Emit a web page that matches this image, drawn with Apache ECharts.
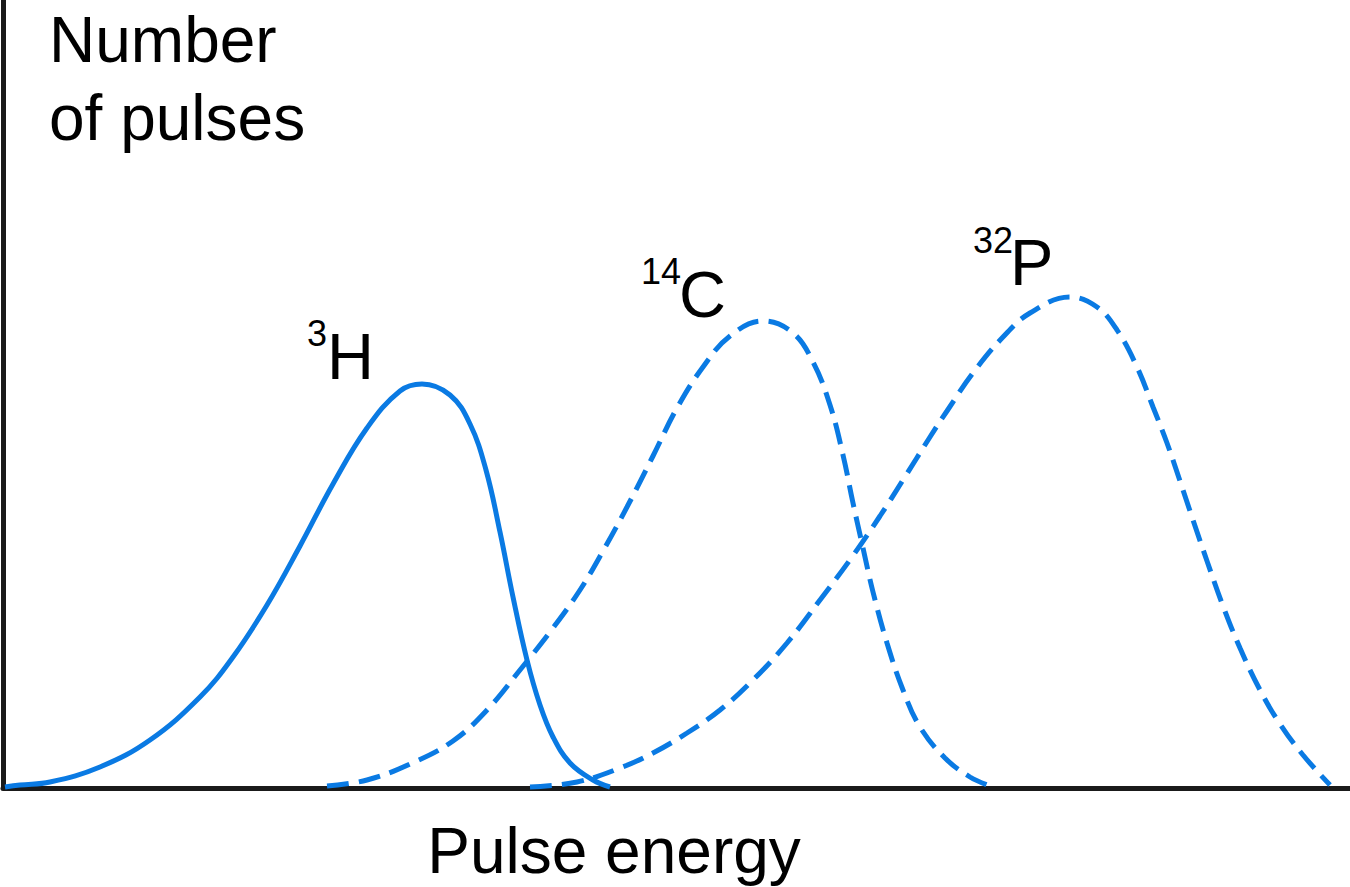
<!DOCTYPE html>
<html>
<head>
<meta charset="utf-8">
<script src="https://cdn.jsdelivr.net/npm/echarts@6/dist/echarts.min.js"></script>
<style>
html,body{margin:0;padding:0;background:#fff;}
#chart{width:1350px;height:887px;}
</style>
</head>
<body>
<div id="chart"></div>
<script>
// Pulse energy (arbitrary units) vs number of pulses (arbitrary units)
var h3Energy  = [2,17,47,97,147,197,230,264,297,330,364,397,419,447,467,483,497,510,524,537,550,567,590,607];
var h3Counts  = [1,3,6,21,48,91,131,183,242,304,360,397,404,393,364,318,256,191,128,83,51,25,8,1];

var c14Energy = [324,364,407,450,484,517,550,577,600,624,650,674,700,727,760,790,810,827,840,850,860,870,884,900,917,942,967,987];
var c14Counts = [2,8,24,47,78,118,160,198,237,281,332,380,421,452,467,455,426,383,333,285,240,196,145,98,61,30,11,2];

var p32Energy = [527,574,617,650,684,717,750,784,817,849,877,900,927,944,970,1000,1027,1067,1094,1114,1134,1150,1164,1177,1190,1204,1220,1237,1257,1277,1300,1327];
var p32Counts = [1,6,20,35,55,78,108,145,188,231,272,308,351,377,415,451,475,491,481,458,421,381,345,307,268,227,182,140,98,64,33,3];

var xName = 'Pulse energy';
var yNameLines = ['Number', 'of pulses'];
var seriesNames = ['3H', '14C', '32P'];

function pairs(xs, ys){ return xs.map(function(x,i){ return [x, ys[i]]; }); }

var blue = '#0a7ae3';
var chart = echarts.init(document.getElementById('chart'), null, {renderer:'svg'});
var font = '"Liberation Sans", Arial, Helvetica, sans-serif';

function txt(text, x, y, size, align){
  return {type:'text', x:x, y:y, silent:true,
    style:{text:text, fontSize:size, fontFamily:font, fill:'#000', align:align||'left', verticalAlign:'middle'}};
}

var option = {
  animation:false,
  backgroundColor:'#fff',
  grid:{left:3, right:0, top:0, bottom:99, containLabel:false},
  xAxis:{type:'value', min:0, max:1347,
    axisLine:{show:true, onZero:false, lineStyle:{color:'#1a1a1a', width:5}},
    axisTick:{show:false}, axisLabel:{show:false}, splitLine:{show:false}},
  yAxis:{type:'value', min:0, max:788,
    axisLine:{show:true, onZero:false, lineStyle:{color:'#1a1a1a', width:5}},
    axisTick:{show:false}, axisLabel:{show:false}, splitLine:{show:false}},
  series:[
    {name:seriesNames[0], type:'line', data:pairs(h3Energy,h3Counts), smooth:0.4, showSymbol:false,
      lineStyle:{color:blue, width:5, type:'solid'}},
    {name:seriesNames[1], type:'line', data:pairs(c14Energy,c14Counts), smooth:0.4, showSymbol:false,
      lineStyle:{color:blue, width:5, type:[22,10]}},
    {name:seriesNames[2], type:'line', data:pairs(p32Energy,p32Counts), smooth:0.4, showSymbol:false,
      lineStyle:{color:blue, width:5, type:[22,10]}}
  ],
  graphic:[
    txt(yNameLines[0], 49, 40, 64),
    txt(yNameLines[1], 49, 118, 64),
    txt(xName, 614, 851, 64, 'center'),
    txt('3', 327, 333, 36, 'right'),
    txt('H', 327, 356.5, 65),
    txt('14', 681, 271, 36, 'right'),
    txt('C', 679, 294.5, 65),
    txt('32', 1013, 240, 36, 'right'),
    txt('P', 1010, 262.5, 65)
  ]
};
chart.setOption(option);
</script>
</body>
</html>
